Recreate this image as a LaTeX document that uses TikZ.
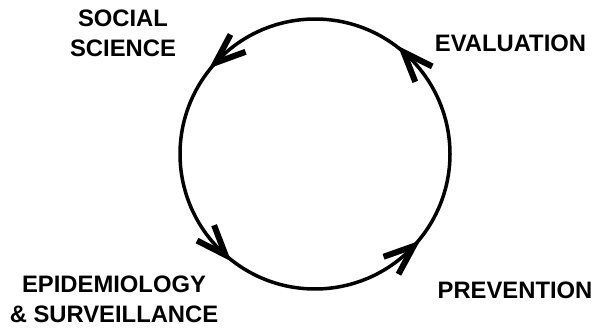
\documentclass[tikz,border=0pt]{standalone}
\usepackage{fontspec}
\setmainfont{Liberation Sans}
\usetikzlibrary{calc}
\begin{document}
\begin{tikzpicture}[x=1pt,y=1pt,
  cyc/.style={line width=3.5pt},
  barb/.style={line width=6pt, miter limit=10},
  lbl/.style={font=\fontsize{23.8}{30}\selectfont\bfseries, align=center, inner sep=0pt}]
\useasboundingbox (0,0) rectangle (600,330);
\def\R{135}
\coordinate (O) at (315,176);
\coordinate (e) at ($(O)+(49:\R)$);
\coordinate (s) at ($(O)+(137.5:\R)$);
\coordinate (d) at ($(O)+(228.5:\R)$);
\coordinate (p) at ($(O)+(317:\R)$);
\draw[cyc] (e) arc[start angle=49, end angle=137.5, radius=\R];
\draw[cyc] (s) arc[start angle=137.5, end angle=228.5, radius=\R];
\draw[cyc] (d) arc[start angle=228.5, end angle=317, radius=\R];
\draw[cyc] (p) arc[start angle=317, end angle=409, radius=\R];
\foreach \n/\t in {s/137.5, e/49, p/317, d/228.5} {
  \pgfmathsetmacro\ba{\t-96.5+21}
  \pgfmathsetmacro\bb{\t-96.5-21}
  \draw[barb] ($(\n)+(\ba:32)$) -- (\n) -- ($(\n)+(\bb:32)$);
}
\node[lbl] (soc) at (123,296.5) {SOCIAL\\SCIENCE};
\node[lbl] (eva) at (510.5,286.5) {EVALUATION};
\node[lbl] (pre) at (515,40) {PREVENTION};
\node[lbl] (epi) at (114,31) {EPIDEMIOLOGY\\\& SURVEILLANCE};
\end{tikzpicture}
\end{document}
